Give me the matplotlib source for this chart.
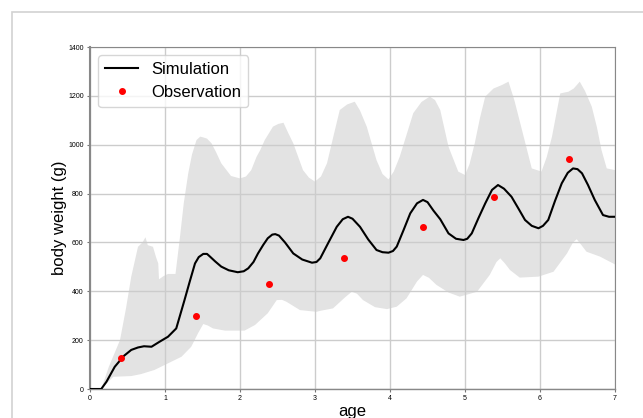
import numpy as np
import matplotlib
matplotlib.use("Agg")
import matplotlib.pyplot as plt
from matplotlib.patches import Rectangle

plt.rcParams['font.family'] = ['Liberation Sans', 'DejaVu Sans']

# simulated mean body weight
sim_age = [0, 0.15, 0.22, 0.33, 0.45, 0.55, 0.64, 0.72, 0.82, 0.93, 1.04, 1.15, 1.26, 1.33,
           1.40, 1.45, 1.51, 1.56, 1.60, 1.67, 1.75, 1.85, 1.97, 2.05, 2.11, 2.18, 2.24, 2.31,
           2.37, 2.43, 2.47, 2.52, 2.60, 2.71, 2.83, 2.96, 3.02, 3.07, 3.18, 3.29, 3.37, 3.44,
           3.50, 3.60, 3.71, 3.82, 3.90, 3.98, 4.04, 4.09, 4.18, 4.27, 4.36, 4.44, 4.50, 4.58,
           4.67, 4.78, 4.88, 4.98, 5.03, 5.09, 5.18, 5.27, 5.36, 5.44, 5.52, 5.62, 5.71, 5.80,
           5.89, 5.98, 6.04, 6.11, 6.20, 6.29, 6.37, 6.44, 6.50, 6.56, 6.64, 6.73, 6.84, 6.92, 7.0]
sim_weight = [0, 0, 30, 91, 135, 160, 170, 175, 173, 194, 214, 248, 364, 440,
              514, 540, 553, 553, 542, 522, 501, 486, 478, 482, 494, 520, 555, 590,
              617, 632, 634, 628, 600, 555, 530, 517, 520, 535, 600, 664, 695, 705,
              697, 664, 612, 569, 560, 558, 565, 583, 650, 719, 760, 774, 765, 730,
              695, 637, 615, 610, 615, 637, 700, 760, 815, 835, 820, 787, 740, 692,
              668, 658, 668, 692, 770, 842, 885, 903, 900, 883, 835, 774, 712, 705, 705]

# upper edge of the simulation envelope
upper_age = [0, 0.15, 0.25, 0.40, 0.48, 0.55, 0.64, 0.70, 0.74, 0.77, 0.84, 0.88, 0.91, 0.92,
             0.98, 1.04, 1.14, 1.20, 1.25, 1.31, 1.36, 1.42, 1.47, 1.51, 1.56, 1.62, 1.68, 1.75,
             1.88, 2.0, 2.08, 2.15, 2.22, 2.27, 2.33, 2.44, 2.51, 2.58, 2.64, 2.71, 2.84, 2.92,
             3.0, 3.08, 3.16, 3.25, 3.33, 3.43, 3.53, 3.60, 3.69, 3.82, 3.90, 3.98, 4.05, 4.13,
             4.22, 4.31, 4.42, 4.53, 4.60, 4.67, 4.78, 4.91, 5.0, 5.06, 5.13, 5.20, 5.27, 5.38,
             5.49, 5.58, 5.66, 5.76, 5.89, 6.02, 6.09, 6.16, 6.22, 6.27, 6.38, 6.45, 6.53, 6.60,
             6.69, 6.76, 6.82, 6.89, 7.0]
upper_weight = [0, 0, 90, 200, 330, 460, 582, 600, 621, 589, 582, 540, 514, 449,
                462, 471, 471, 623, 760, 883, 960, 1019, 1033, 1030, 1025, 1006, 970, 924,
                872, 862, 870, 896, 950, 978, 1019, 1074, 1085, 1090, 1050, 1006, 896, 865,
                849, 870, 924, 1040, 1142, 1165, 1176, 1140, 1074, 937, 880, 858, 890, 951,
                1040, 1129, 1175, 1197, 1183, 1142, 992, 890, 876, 920, 1006, 1110, 1197, 1230,
                1244, 1258, 1180, 1060, 903, 890, 950, 1033, 1130, 1210, 1217, 1230, 1258, 1220,
                1156, 1070, 978, 903, 896]

# lower edge of the simulation envelope
lower_age = [0, 0.15, 0.31, 0.55, 0.68, 0.86, 1.04, 1.22, 1.35, 1.44, 1.51, 1.57, 1.64, 1.80,
             2.06, 2.20, 2.37, 2.49, 2.56, 2.62, 2.80, 3.02, 3.07, 3.24, 3.40, 3.49, 3.56, 3.64,
             3.80, 3.96, 4.09, 4.22, 4.36, 4.44, 4.52, 4.62, 4.78, 4.93, 5.16, 5.33, 5.42, 5.47,
             5.53, 5.60, 5.73, 5.98, 6.18, 6.36, 6.44, 6.49, 6.55, 6.62, 6.80, 7.0]
lower_weight = [0, 0, 50, 53, 61, 78, 105, 132, 173, 228, 266, 260, 248, 239,
                239, 262, 310, 364, 365, 357, 323, 316, 320, 330, 375, 398, 390, 364,
                335, 327, 337, 371, 440, 467, 455, 426, 395, 378, 398, 467, 520, 535,
                515, 487, 456, 460, 480, 555, 600, 613, 590, 562, 542, 510]

# measured body weight
obs_age = [0.41, 1.41, 2.38, 3.38, 4.44, 5.38, 6.38]
obs_weight = [125, 300, 428, 538, 664, 784, 942]

fig = plt.figure(figsize=(6.43, 4.18), dpi=100)
fig.patches.append(Rectangle((12 / 643, -0.1), 1.2, 1.1 - 12 / 418,
                             transform=fig.transFigure, fill=False,
                             edgecolor='#d2d2d2', lw=1.2))
ax = fig.add_axes([90 / 643, 29 / 418, 525 / 643, 342 / 418])

env_x = np.concatenate([upper_age, lower_age[::-1]])
env_y = np.concatenate([upper_weight, lower_weight[::-1]])
ax.fill(env_x, env_y, color='#e3e3e3', lw=0, zorder=1)

ax.plot(sim_age, sim_weight, color='black', lw=1.5, label='Simulation', zorder=3)
ax.plot(obs_age, obs_weight, 'o', color='red', ms=4, label='Observation', zorder=4)

ax.set_xlim(0, 7)
ax.set_ylim(0, 1400)
ax.set_xticks(range(0, 8))
ax.set_yticks(range(0, 1401, 200))
ax.grid(True, color='#cccccc', lw=1)
ax.tick_params(labelsize=5, length=2.5, width=0.8, color='#777777', pad=2)
for side in ax.spines:
    ax.spines[side].set_color('#888888')
ax.spines['left'].set_linewidth(1.5)
ax.spines['bottom'].set_linewidth(1.0)

ax.set_xlabel('age', fontsize=12, labelpad=1)
ax.set_ylabel('body weight (g)', fontsize=12, labelpad=1)
ax.legend(loc='upper left', fontsize=12, borderaxespad=0.5)

fig.savefig('out.png', dpi=100)
